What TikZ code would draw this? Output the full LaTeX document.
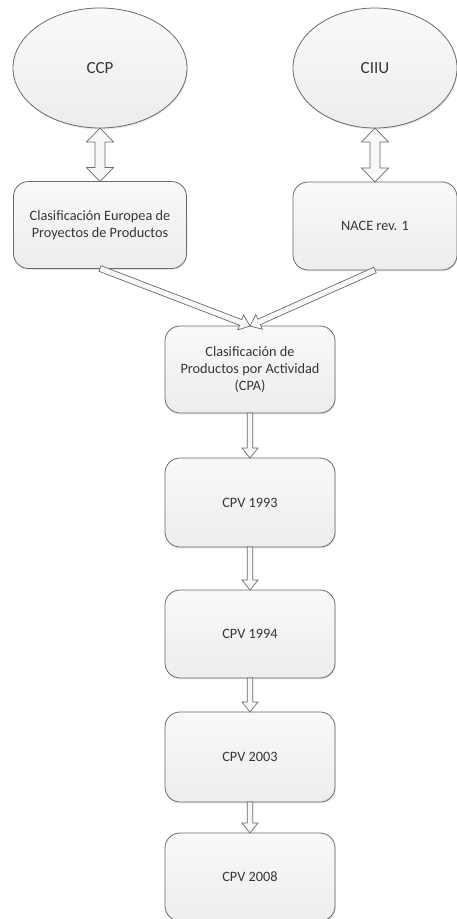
\documentclass[tikz,border=0pt]{standalone}
\usepackage{fontspec}
\setmainfont{Carlito}
\usetikzlibrary{shapes.geometric,calc,shadows}

\definecolor{edge}{HTML}{6A6A6A}
\definecolor{ink}{HTML}{363636}
\definecolor{topfill}{HTML}{F9F9F9}
\definecolor{botfill}{HTML}{EDEDED}
\definecolor{arrowfill}{HTML}{F8F8F8}

% single-headed block arrow: from, to, shaft half-width, head half-width, head length
\newcommand{\blockarrow}[5]{%
  \coordinate (ba-c) at ($(#2)!#5!(#1)$);
  \draw[blockstyle] ($(#1)!#3!90:(#2)$) -- ($(ba-c)!#3!90:(#2)$) -- ($(ba-c)!#4!90:(#2)$)
    -- (#2) -- ($(ba-c)!#4!-90:(#2)$) -- ($(ba-c)!#3!-90:(#2)$) -- ($(#1)!#3!-90:(#2)$) -- cycle;
}
% double-headed block arrow with the same parameters
\newcommand{\twowayarrow}[5]{%
  \coordinate (da-a) at ($(#1)!#5!(#2)$);
  \coordinate (da-b) at ($(#2)!#5!(#1)$);
  \draw[blockstyle] (#1) -- ($(da-a)!#4!90:(#2)$) -- ($(da-a)!#3!90:(#2)$)
    -- ($(da-b)!#3!90:(#2)$) -- ($(da-b)!#4!90:(#2)$) -- (#2)
    -- ($(da-b)!#4!-90:(#2)$) -- ($(da-b)!#3!-90:(#2)$)
    -- ($(da-a)!#3!-90:(#2)$) -- ($(da-a)!#4!-90:(#2)$) -- cycle;
}

\tikzset{
  softshadow/.style={drop shadow={opacity=0.2, shadow xshift=0.8pt, shadow yshift=-1.4pt}},
  oval/.style={ellipse, draw=edge, line width=0.8pt, top color=topfill, bottom color=botfill,
    inner sep=0pt, outer sep=0pt, text=ink, font=\fontsize{17}{20}\selectfont, softshadow},
  stepbox/.style={rectangle, rounded corners=15pt, draw=edge, line width=0.8pt,
    top color=topfill, bottom color=botfill, inner sep=0pt, outer sep=0pt, align=center,
    text=ink, font=\fontsize{14.3}{17}\selectfont, softshadow},
  blockstyle/.style={draw=edge, line width=0.7pt, fill=arrowfill, line join=miter},
}

\begin{document}
\begin{tikzpicture}[x=1pt,y=-1pt]
  \useasboundingbox (0,0) rectangle (456,919);

  % source classifications
  \node[oval, minimum width=174pt, minimum height=120pt] (ccp) at (100,68) {CCP};
  \node[oval, minimum width=164pt, minimum height=120pt] (ciiu) at (375,68) {CIIU};

  \node[stepbox, minimum width=173pt, minimum height=87pt] (eur) at (100,225)
    {Clasificación Europea de\\Proyectos de Productos};
  \node[stepbox, minimum width=164pt, minimum height=88pt] (nace) at (375,226) {NACE rev. 1};

  % derived chain
  \node[stepbox, minimum width=170pt, minimum height=87pt] (cpa) at (250,369.5)
    {Clasificación de\\Productos por Actividad\\(CPA)};
  \node[stepbox, minimum width=170pt, minimum height=89pt] (c93) at (250,502.5) {CPV 1993};
  \node[stepbox, minimum width=170pt, minimum height=88pt] (c94) at (250,634) {CPV 1994};
  \node[stepbox, minimum width=170pt, minimum height=90pt] (c03) at (250,757) {CPV 2003};
  \node[stepbox, minimum width=170pt, minimum height=88pt] (c08) at (250,877) {CPV 2008};

  % correspondences
  \twowayarrow{ccp.south}{eur.north}{5pt}{13.5pt}{14pt}
  \twowayarrow{ciiu.south}{nace.north}{5pt}{13.5pt}{14pt}

  % evolution
  \blockarrow{eur.south}{cpa.north}{3pt}{8pt}{10pt}
  \blockarrow{nace.south}{cpa.north}{3pt}{8pt}{10pt}
  \blockarrow{cpa.south}{c93.north}{2.7pt}{8pt}{10pt}
  \blockarrow{c93.south}{c94.north}{2.7pt}{8pt}{10pt}
  \blockarrow{c94.south}{c03.north}{2.7pt}{8pt}{10pt}
  \blockarrow{c03.south}{c08.north}{2.7pt}{8pt}{10pt}
\end{tikzpicture}
\end{document}
